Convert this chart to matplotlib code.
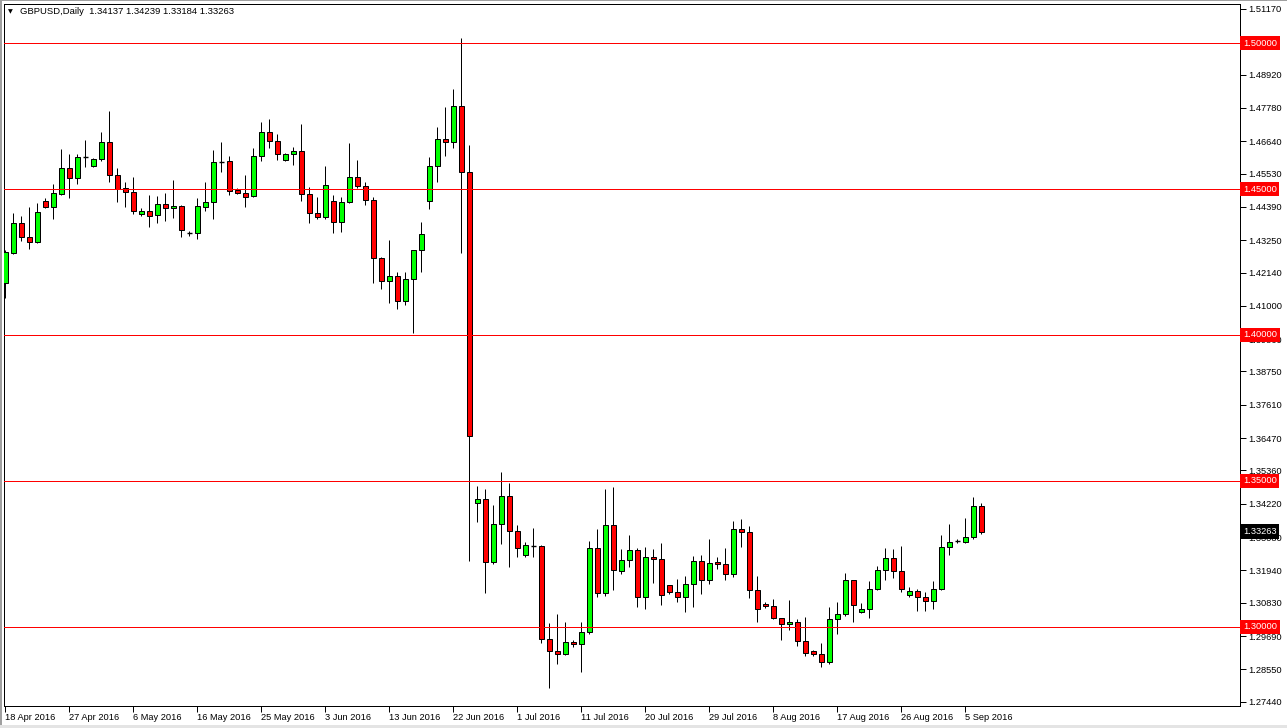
import matplotlib
matplotlib.use("Agg")
import matplotlib.pyplot as plt
from matplotlib.patches import Rectangle

plt.rcParams['font.family'] = ['Liberation Sans', 'DejaVu Sans']

# -----------------------------
# GBPUSD daily candles (index 0 = 18 Apr 2016, Sunday bars included)
# -----------------------------
opens = [1.4178, 1.4281, 1.4384, 1.4336, 1.4319, 1.4459, 1.4439, 1.4483, 1.4572, 1.4538,
         1.4610, 1.4579, 1.4603, 1.4661, 1.4548, 1.4504, 1.4490, 1.4415, 1.4425, 1.4411,
         1.4449, 1.4435, 1.4442, 1.4349, 1.4349, 1.4439, 1.4456, 1.4593, 1.4596, 1.4497,
         1.4487, 1.4476, 1.4613, 1.4695, 1.4665, 1.4600, 1.4620, 1.4630, 1.4483, 1.4418,
         1.4404, 1.4459, 1.4387, 1.4456, 1.4541, 1.4510, 1.4462, 1.4264, 1.4185, 1.4202,
         1.4117, 1.4192, 1.4291, 1.4459, 1.4579, 1.4671, 1.4661, 1.4784, 1.4558, 1.3424,
         1.3437, 1.3222, 1.3352, 1.3448, 1.3328, 1.3246, 1.3277, 1.3276, 1.2958, 1.2917,
         1.2907, 1.2948, 1.2941, 1.2982, 1.3270, 1.3115, 1.3348, 1.3191, 1.3228, 1.3263,
         1.3102, 1.3241, 1.3232, 1.3143, 1.3119, 1.3102, 1.3146, 1.3225, 1.3160, 1.3222,
         1.3215, 1.3180, 1.3335, 1.3324, 1.3126, 1.3078, 1.3071, 1.3030, 1.3009, 1.3016,
         1.2951, 1.2917, 1.2907, 1.2879, 1.3026, 1.3043, 1.3160, 1.3050, 1.3061, 1.3129,
         1.3194, 1.3235, 1.3191, 1.3109, 1.3122, 1.3102, 1.3088, 1.3129, 1.3273, 1.3294,
         1.3290, 1.3307, 1.34137]
highs = [1.4291, 1.4418, 1.4408, 1.4439, 1.4452, 1.4469, 1.4517, 1.4637, 1.4620, 1.4620,
         1.4668, 1.4606, 1.4695, 1.4767, 1.4572, 1.4524, 1.4541, 1.4435, 1.4480, 1.4476,
         1.4487, 1.4531, 1.4445, 1.4356, 1.4469, 1.4524, 1.4634, 1.4661, 1.4613, 1.4504,
         1.4548, 1.4641, 1.4730, 1.4740, 1.4689, 1.4623, 1.4644, 1.4723, 1.4507, 1.4473,
         1.4579, 1.4480, 1.4473, 1.4658, 1.4600, 1.4524, 1.4473, 1.4267, 1.4325, 1.4216,
         1.4216, 1.4292, 1.4387, 1.4610, 1.4713, 1.4781, 1.4843, 1.5017, 1.4651, 1.3483,
         1.3473, 1.3418, 1.3530, 1.3492, 1.3349, 1.3290, 1.3338, 1.3280, 1.3013, 1.3043,
         1.3016, 1.2955, 1.3016, 1.3295, 1.3335, 1.3473, 1.3478, 1.3266, 1.3314, 1.3270,
         1.3273, 1.3266, 1.3287, 1.3144, 1.3163, 1.3174, 1.3242, 1.3246, 1.3300, 1.3239,
         1.3270, 1.3362, 1.3369, 1.3345, 1.3174, 1.3085, 1.3095, 1.3031, 1.3091, 1.3026,
         1.3033, 1.2920, 1.2944, 1.3070, 1.3087, 1.3184, 1.3161, 1.3081, 1.3157, 1.3209,
         1.3271, 1.3266, 1.3277, 1.3136, 1.3129, 1.3119, 1.3157, 1.3314, 1.3353, 1.3301,
         1.3372, 1.3445, 1.34239]
lows = [1.4127, 1.4279, 1.4322, 1.4295, 1.4315, 1.4435, 1.4397, 1.4480, 1.4469, 1.4517,
        1.4576, 1.4576, 1.4596, 1.4524, 1.4456, 1.4439, 1.4415, 1.4408, 1.4370, 1.4384,
        1.4391, 1.4401, 1.4336, 1.4339, 1.4329, 1.4425, 1.4397, 1.4558, 1.4480, 1.4483,
        1.4439, 1.4473, 1.4596, 1.4641, 1.4600, 1.4596, 1.4582, 1.4459, 1.4384, 1.4397,
        1.4397, 1.4349, 1.4353, 1.4452, 1.4504, 1.4445, 1.4178, 1.4158, 1.4110, 1.4089,
        1.4103, 1.4007, 1.4216, 1.4432, 1.4524, 1.4613, 1.4641, 1.4281, 1.3226, 1.3361,
        1.3117, 1.3215, 1.3283, 1.3204, 1.3241, 1.3239, 1.3239, 1.2946, 1.2790, 1.2874,
        1.2903, 1.2930, 1.2847, 1.2975, 1.3102, 1.3105, 1.3128, 1.3183, 1.3207, 1.3070,
        1.3063, 1.3152, 1.3076, 1.3112, 1.3087, 1.3052, 1.3070, 1.3112, 1.3148, 1.3198,
        1.3160, 1.3170, 1.3275, 1.3098, 1.3018, 1.3064, 1.3026, 1.2954, 1.2989, 1.2934,
        1.2900, 1.2900, 1.2862, 1.2873, 1.2975, 1.3039, 1.3018, 1.3047, 1.3032, 1.3126,
        1.3160, 1.3167, 1.3119, 1.3104, 1.3056, 1.3056, 1.3063, 1.3126, 1.3248, 1.3287,
        1.3287, 1.3300, 1.33184]
closes = [1.4284, 1.4384, 1.4336, 1.4319, 1.4421, 1.4439, 1.4487, 1.4572, 1.4538, 1.4610,
          1.4610, 1.4603, 1.4661, 1.4548, 1.4500, 1.4490, 1.4425, 1.4425, 1.4408, 1.4449,
          1.4435, 1.4442, 1.4360, 1.4349, 1.4442, 1.4456, 1.4593, 1.4593, 1.4493, 1.4487,
          1.4473, 1.4613, 1.4695, 1.4665, 1.4620, 1.4620, 1.4630, 1.4483, 1.4418, 1.4404,
          1.4514, 1.4387, 1.4456, 1.4541, 1.4510, 1.4462, 1.4264, 1.4185, 1.4202, 1.4117,
          1.4192, 1.4291, 1.4346, 1.4579, 1.4671, 1.4661, 1.4784, 1.4558, 1.3654, 1.3437,
          1.3222, 1.3352, 1.3448, 1.3328, 1.3270, 1.3280, 1.3277, 1.2958, 1.2917, 1.2907,
          1.2948, 1.2941, 1.2982, 1.3270, 1.3115, 1.3348, 1.3194, 1.3228, 1.3263, 1.3102,
          1.3241, 1.3232, 1.3109, 1.3119, 1.3102, 1.3146, 1.3225, 1.3160, 1.3218, 1.3215,
          1.3180, 1.3335, 1.3324, 1.3126, 1.3061, 1.3071, 1.3030, 1.3009, 1.3016, 1.2951,
          1.2910, 1.2907, 1.2879, 1.3026, 1.3043, 1.3160, 1.3074, 1.3061, 1.3129, 1.3194,
          1.3235, 1.3191, 1.3129, 1.3122, 1.3102, 1.3088, 1.3129, 1.3273, 1.3290, 1.3294,
          1.3307, 1.3413, 1.33263]

# горизонтальные уровни
levels = [1.50, 1.45, 1.40, 1.35, 1.30]

# шкала цен справа (1.50050 закрыта меткой уровня)
price_ticks = [1.51170, 1.48920, 1.47780, 1.46640, 1.45530, 1.44390, 1.43250,
               1.42140, 1.41000, 1.39860, 1.38750, 1.37610, 1.36470, 1.35360, 1.34220,
               1.33080, 1.31940, 1.30830, 1.29690, 1.28550, 1.27440]

# подписи дат (индекс бара)
date_idx = [0, 8, 16, 24, 32, 40, 48, 56, 64, 72, 80, 88, 96, 104, 112, 120]
date_labels = ["18 Apr 2016", "27 Apr 2016", "6 May 2016", "16 May 2016", "25 May 2016",
               "3 Jun 2016", "13 Jun 2016", "22 Jun 2016", "1 Jul 2016", "11 Jul 2016",
               "20 Jul 2016", "29 Jul 2016", "8 Aug 2016", "17 Aug 2016", "26 Aug 2016",
               "5 Sep 2016"]

W, H = 1287, 728
fig = plt.figure(figsize=(W / 100, H / 100), dpi=100, facecolor='white')
# область графика в пикселях: x 4..1240, y 4..706
ax = fig.add_axes([4 / W, (H - 706) / H, (1240 - 4) / W, (706 - 4) / H])
ax.set_facecolor('white')

BULL = '#00ff00'
BEAR = '#ff0000'
body_w = 0.6
px = 0.72  # 1 пиксель в пунктах

for i, (o, h, l, c) in enumerate(zip(opens, highs, lows, closes)):
    ax.vlines(i, l, h, color='black', linewidth=px, zorder=2)
    if abs(c - o) < 1e-9:
        ax.hlines(o, i - body_w / 2, i + body_w / 2, color='black', linewidth=px * 1.4, zorder=3)
    else:
        ax.bar(i, abs(c - o), bottom=min(o, c), width=body_w,
               color=BULL if c > o else BEAR, edgecolor='black', linewidth=px, zorder=3)

for lv in levels:
    ax.axhline(lv, color='#ff0000', linewidth=px, zorder=4)

ax.set_xlim(-0.16, 154.34)
ax.set_ylim(1.27294, 1.51336)

for s in ax.spines.values():
    s.set_color('black')
    s.set_linewidth(px)

ax.yaxis.tick_right()
ax.set_yticks(price_ticks)
ax.set_yticklabels([f"{t:.5f}" for t in price_ticks])
ax.tick_params(axis='y', length=4, width=px, pad=2, labelsize=6.7, colors='black')

ax.set_xticks(date_idx)
ax.set_xticklabels(date_labels, ha='left')
ax.tick_params(axis='x', length=4, width=px, pad=0.8, labelsize=6.7, colors='black')

# подписи уровней справа
for lv in levels:
    ax.annotate(f"{lv:.5f}", xy=(1, lv), xycoords=('axes fraction', 'data'),
                xytext=(2.0, 0), textcoords='offset points', va='center', ha='left',
                fontsize=6.7, color='white', zorder=10, annotation_clip=False,
                bbox=dict(boxstyle='square,pad=0.3', facecolor='#ff0000', edgecolor='none'))

ax.annotate(f"{closes[-1]:.5f}", xy=(1, closes[-1]), xycoords=('axes fraction', 'data'),
            xytext=(2.0, 0), textcoords='offset points', va='center', ha='left',
            fontsize=6.7, color='white', zorder=10, annotation_clip=False,
            bbox=dict(boxstyle='square,pad=0.3', facecolor='black', edgecolor='none'))

# заголовок графика
fig.text(8 / W, 1 - 12 / H, "\u25BC", fontsize=4.5, va='center', ha='left',
         family=['DejaVu Sans'])
fig.text(20 / W, 1 - 12 / H,
         f"GBPUSD,Daily  {opens[-1]:.5f} {highs[-1]:.5f} {lows[-1]:.5f} {closes[-1]:.5f}",
         fontsize=6.8, va='center', ha='left', color='black')

# рамка окна
fig.patches.append(Rectangle((0, 0), 2 / W, 1, transform=fig.transFigure,
                             facecolor='#a0a0a0', edgecolor='none'))
fig.patches.append(Rectangle((0, 1 - 1 / H), 1, 1 / H, transform=fig.transFigure,
                             facecolor='#a0a0a0', edgecolor='none'))
fig.patches.append(Rectangle((0, 0), 1, 3 / H, transform=fig.transFigure,
                             facecolor='#e4e4e4', edgecolor='none'))

fig.savefig("out.png", dpi=100, facecolor='white')
